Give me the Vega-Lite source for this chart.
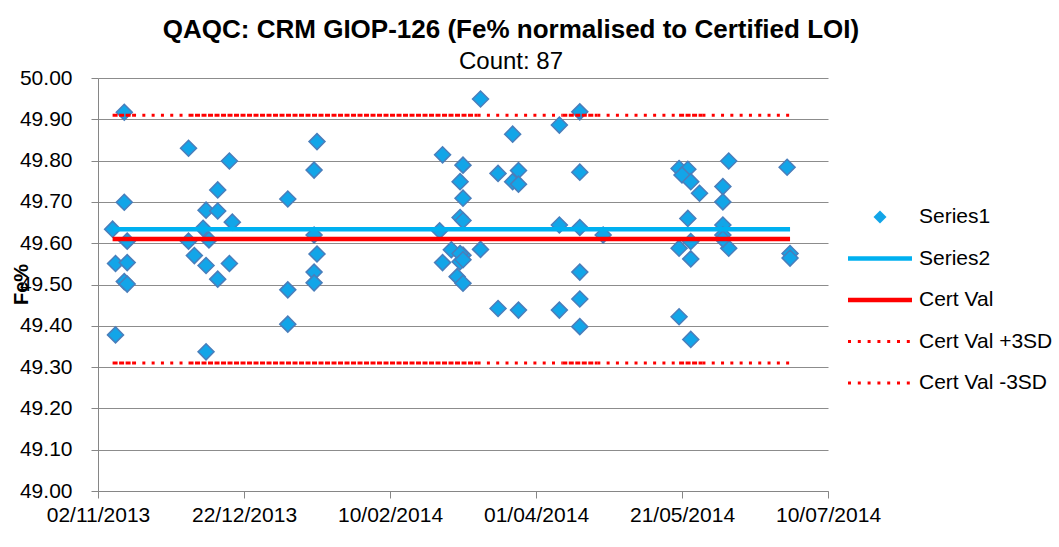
{
  "$schema": "https://vega.github.io/schema/vega-lite/v6.json",
  "width": 730,
  "height": 413,
  "autosize": {"type": "none"},
  "padding": {"left": 98, "top": 78, "right": 231, "bottom": 56},
  "background": "white",
  "title": {
    "text": "QAQC: CRM GIOP-126 (Fe% normalised to Certified LOI)",
    "subtitle": "Count: 87",
    "anchor": "middle",
    "dx": 48,
    "offset": -7,
    "font": "Liberation Sans",
    "fontSize": 26,
    "fontWeight": "bold",
    "color": "#000000",
    "subtitleFont": "Liberation Sans",
    "subtitleFontSize": 24,
    "subtitleColor": "#000000",
    "subtitlePadding": 7
  },
  "config": {
    "view": {"stroke": null},
    "axis": {
      "labelFont": "Liberation Sans",
      "labelFontSize": 21,
      "labelColor": "#000000",
      "domainColor": "#868686",
      "tickColor": "#868686",
      "gridColor": "#8c8c8c",
      "tickSize": 7,
      "domainWidth": 1,
      "tickWidth": 1,
      "gridWidth": 1
    },
    "legend": {
      "title": null,
      "orient": "none",
      "legendX": 767,
      "legendY": 124,
      "symbolSize": 900,
      "symbolStrokeWidth": 0,
      "symbolOpacity": 1,
      "labelFont": "Liberation Sans",
      "labelFontSize": 21,
      "labelColor": "#000000",
      "labelOffset": 24,
      "labelLimit": 0,
      "rowPadding": 16.5
    }
  },
  "datasets": {
    "points": [
      {"date": "2013-11-07", "fe": 49.634, "series": "Series1"},
      {"date": "2013-11-11", "fe": 49.917, "series": "Series1"},
      {"date": "2013-11-11", "fe": 49.699, "series": "Series1"},
      {"date": "2013-11-12", "fe": 49.605, "series": "Series1"},
      {"date": "2013-11-08", "fe": 49.551, "series": "Series1"},
      {"date": "2013-11-12", "fe": 49.553, "series": "Series1"},
      {"date": "2013-11-11", "fe": 49.507, "series": "Series1"},
      {"date": "2013-11-12", "fe": 49.501, "series": "Series1"},
      {"date": "2013-11-08", "fe": 49.378, "series": "Series1"},
      {"date": "2013-12-03", "fe": 49.830, "series": "Series1"},
      {"date": "2013-12-17", "fe": 49.799, "series": "Series1"},
      {"date": "2013-12-13", "fe": 49.729, "series": "Series1"},
      {"date": "2013-12-09", "fe": 49.680, "series": "Series1"},
      {"date": "2013-12-13", "fe": 49.678, "series": "Series1"},
      {"date": "2013-12-18", "fe": 49.651, "series": "Series1"},
      {"date": "2013-12-08", "fe": 49.636, "series": "Series1"},
      {"date": "2013-12-03", "fe": 49.605, "series": "Series1"},
      {"date": "2013-12-10", "fe": 49.608, "series": "Series1"},
      {"date": "2013-12-05", "fe": 49.570, "series": "Series1"},
      {"date": "2013-12-09", "fe": 49.546, "series": "Series1"},
      {"date": "2013-12-17", "fe": 49.551, "series": "Series1"},
      {"date": "2013-12-13", "fe": 49.513, "series": "Series1"},
      {"date": "2013-12-09", "fe": 49.337, "series": "Series1"},
      {"date": "2014-01-06", "fe": 49.707, "series": "Series1"},
      {"date": "2014-01-06", "fe": 49.487, "series": "Series1"},
      {"date": "2014-01-06", "fe": 49.404, "series": "Series1"},
      {"date": "2014-01-16", "fe": 49.846, "series": "Series1"},
      {"date": "2014-01-15", "fe": 49.777, "series": "Series1"},
      {"date": "2014-01-15", "fe": 49.620, "series": "Series1"},
      {"date": "2014-01-16", "fe": 49.574, "series": "Series1"},
      {"date": "2014-01-15", "fe": 49.530, "series": "Series1"},
      {"date": "2014-01-15", "fe": 49.504, "series": "Series1"},
      {"date": "2014-02-28", "fe": 49.814, "series": "Series1"},
      {"date": "2014-02-27", "fe": 49.630, "series": "Series1"},
      {"date": "2014-02-28", "fe": 49.553, "series": "Series1"},
      {"date": "2014-03-13", "fe": 49.949, "series": "Series1"},
      {"date": "2014-03-07", "fe": 49.789, "series": "Series1"},
      {"date": "2014-03-06", "fe": 49.749, "series": "Series1"},
      {"date": "2014-03-07", "fe": 49.709, "series": "Series1"},
      {"date": "2014-03-06", "fe": 49.662, "series": "Series1"},
      {"date": "2014-03-07", "fe": 49.655, "series": "Series1"},
      {"date": "2014-03-03", "fe": 49.584, "series": "Series1"},
      {"date": "2014-03-06", "fe": 49.555, "series": "Series1"},
      {"date": "2014-03-07", "fe": 49.571, "series": "Series1"},
      {"date": "2014-03-05", "fe": 49.519, "series": "Series1"},
      {"date": "2014-03-07", "fe": 49.503, "series": "Series1"},
      {"date": "2014-03-13", "fe": 49.585, "series": "Series1"},
      {"date": "2014-03-06", "fe": 49.575, "series": "Series1"},
      {"date": "2014-03-07", "fe": 49.560, "series": "Series1"},
      {"date": "2014-03-19", "fe": 49.769, "series": "Series1"},
      {"date": "2014-03-19", "fe": 49.442, "series": "Series1"},
      {"date": "2014-03-24", "fe": 49.864, "series": "Series1"},
      {"date": "2014-03-26", "fe": 49.776, "series": "Series1"},
      {"date": "2014-03-24", "fe": 49.749, "series": "Series1"},
      {"date": "2014-03-26", "fe": 49.743, "series": "Series1"},
      {"date": "2014-03-26", "fe": 49.438, "series": "Series1"},
      {"date": "2014-04-09", "fe": 49.886, "series": "Series1"},
      {"date": "2014-04-16", "fe": 49.918, "series": "Series1"},
      {"date": "2014-04-16", "fe": 49.772, "series": "Series1"},
      {"date": "2014-04-09", "fe": 49.644, "series": "Series1"},
      {"date": "2014-04-16", "fe": 49.638, "series": "Series1"},
      {"date": "2014-04-24", "fe": 49.620, "series": "Series1"},
      {"date": "2014-04-16", "fe": 49.530, "series": "Series1"},
      {"date": "2014-04-16", "fe": 49.465, "series": "Series1"},
      {"date": "2014-04-09", "fe": 49.438, "series": "Series1"},
      {"date": "2014-04-16", "fe": 49.398, "series": "Series1"},
      {"date": "2014-05-20", "fe": 49.781, "series": "Series1"},
      {"date": "2014-05-23", "fe": 49.779, "series": "Series1"},
      {"date": "2014-05-21", "fe": 49.765, "series": "Series1"},
      {"date": "2014-05-24", "fe": 49.749, "series": "Series1"},
      {"date": "2014-05-27", "fe": 49.721, "series": "Series1"},
      {"date": "2014-06-04", "fe": 49.737, "series": "Series1"},
      {"date": "2014-06-04", "fe": 49.700, "series": "Series1"},
      {"date": "2014-06-06", "fe": 49.799, "series": "Series1"},
      {"date": "2014-06-26", "fe": 49.784, "series": "Series1"},
      {"date": "2014-05-23", "fe": 49.660, "series": "Series1"},
      {"date": "2014-05-20", "fe": 49.588, "series": "Series1"},
      {"date": "2014-05-24", "fe": 49.604, "series": "Series1"},
      {"date": "2014-05-24", "fe": 49.562, "series": "Series1"},
      {"date": "2014-05-20", "fe": 49.422, "series": "Series1"},
      {"date": "2014-05-24", "fe": 49.367, "series": "Series1"},
      {"date": "2014-06-04", "fe": 49.644, "series": "Series1"},
      {"date": "2014-06-04", "fe": 49.620, "series": "Series1"},
      {"date": "2014-06-06", "fe": 49.588, "series": "Series1"},
      {"date": "2014-06-04", "fe": 49.610, "series": "Series1"},
      {"date": "2014-06-27", "fe": 49.575, "series": "Series1"},
      {"date": "2014-06-27", "fe": 49.564, "series": "Series1"}
    ],
    "lines": [
      {"series": "Series2", "value": 49.634, "start": "2013-11-07", "end": "2014-06-27"},
      {"series": "Cert Val", "value": 49.61, "start": "2013-11-07", "end": "2014-06-27"}
    ],
    "dense": [
      {"series": "Cert Val +3SD", "value": 49.91, "start": "2013-11-07", "end": "2013-11-14"},
      {"series": "Cert Val +3SD", "value": 49.91, "start": "2013-12-03", "end": "2014-03-12"},
      {"series": "Cert Val +3SD", "value": 49.91, "start": "2014-04-10", "end": "2014-04-22"},
      {"series": "Cert Val +3SD", "value": 49.91, "start": "2014-05-20", "end": "2014-05-28"},
      {"series": "Cert Val -3SD", "value": 49.31, "start": "2013-11-07", "end": "2013-11-14"},
      {"series": "Cert Val -3SD", "value": 49.31, "start": "2013-12-03", "end": "2014-03-12"},
      {"series": "Cert Val -3SD", "value": 49.31, "start": "2014-04-10", "end": "2014-04-22"},
      {"series": "Cert Val -3SD", "value": 49.31, "start": "2014-05-20", "end": "2014-05-28"}
    ],
    "sparse": [
      {"series": "Cert Val +3SD", "value": 49.91, "start": "2013-11-14", "end": "2013-12-03"},
      {"series": "Cert Val +3SD", "value": 49.91, "start": "2014-03-12", "end": "2014-04-10"},
      {"series": "Cert Val +3SD", "value": 49.91, "start": "2014-04-22", "end": "2014-05-20"},
      {"series": "Cert Val +3SD", "value": 49.91, "start": "2014-05-28", "end": "2014-06-27"},
      {"series": "Cert Val -3SD", "value": 49.31, "start": "2013-11-14", "end": "2013-12-03"},
      {"series": "Cert Val -3SD", "value": 49.31, "start": "2014-03-12", "end": "2014-04-10"},
      {"series": "Cert Val -3SD", "value": 49.31, "start": "2014-04-22", "end": "2014-05-20"},
      {"series": "Cert Val -3SD", "value": 49.31, "start": "2014-05-28", "end": "2014-06-27"}
    ]
  },
  "layer": [
    {
      "data": {"name": "points"},
      "mark": {"type": "point", "shape": "diamond", "filled": true, "size": 256, "opacity": 1, "stroke": "#4a7ebb", "strokeWidth": 1.5},
      "encoding": {
        "x": {
          "field": "date",
          "type": "temporal",
          "scale": {
            "type": "utc",
            "domain": [
              {"year": 2013, "month": 11, "date": 2, "utc": true},
              {"year": 2014, "month": 7, "date": 10, "utc": true}
            ],
            "nice": false
          },
          "axis": {
            "title": null,
            "grid": false,
            "format": "%d/%m/%Y",
            "labelFlush": false,
            "labelOverlap": false,
            "labelPadding": 6,
            "values": [
              {"year": 2013, "month": 11, "date": 2, "utc": true},
              {"year": 2013, "month": 12, "date": 22, "utc": true},
              {"year": 2014, "month": 2, "date": 10, "utc": true},
              {"year": 2014, "month": 4, "date": 1, "utc": true},
              {"year": 2014, "month": 5, "date": 21, "utc": true},
              {"year": 2014, "month": 7, "date": 10, "utc": true}
            ]
          }
        },
        "y": {
          "field": "fe",
          "type": "quantitative",
          "scale": {"domain": [49, 50], "nice": false, "zero": false},
          "axis": {
            "title": "Fe%",
            "titleFont": "Liberation Sans",
            "titleFontSize": 20,
            "titleFontWeight": "bold",
            "titleColor": "#000000",
            "titleX": -77,
            "titleY": 206,
            "titleAlign": "center",
            "titleBaseline": "middle",
            "titleAngle": -90,
            "grid": true,
            "format": ".2f",
            "labelPadding": 19,
            "values": [49.0, 49.1, 49.2, 49.3, 49.4, 49.5, 49.6, 49.7, 49.8, 49.9, 50.0]
          }
        },
        "color": {
          "field": "series",
          "type": "nominal",
          "scale": {
            "domain": ["Series1", "Series2", "Cert Val", "Cert Val +3SD", "Cert Val -3SD"],
            "range": ["#12a5e8", "#00b0f0", "#ff0000", "#ff0000", "#ff0000"]
          },
          "legend": {"title": null}
        }
      }
    },
    {
      "data": {"name": "sparse"},
      "mark": {"type": "rule", "strokeWidth": 3, "strokeDash": [3, 6.3]},
      "encoding": {
        "x": {"field": "start", "type": "temporal"},
        "x2": {"field": "end"},
        "y": {"field": "value", "type": "quantitative"},
        "color": {"field": "series", "type": "nominal"}
      }
    },
    {
      "data": {"name": "dense"},
      "mark": {"type": "rule", "strokeWidth": 3, "strokeDash": [5, 1.5]},
      "encoding": {
        "x": {"field": "start", "type": "temporal"},
        "x2": {"field": "end"},
        "y": {"field": "value", "type": "quantitative"},
        "color": {"field": "series", "type": "nominal"}
      }
    },
    {
      "data": {"name": "lines"},
      "mark": {"type": "rule", "strokeWidth": 4.5},
      "encoding": {
        "x": {"field": "start", "type": "temporal"},
        "x2": {"field": "end"},
        "y": {"field": "value", "type": "quantitative"},
        "color": {"field": "series", "type": "nominal"}
      }
    },
    {
      "data": {"values": []},
      "mark": {"type": "point", "filled": true},
      "encoding": {
        "color": {"field": "series", "type": "nominal", "legend": {"title": null}},
        "shape": {
          "field": "series",
          "type": "nominal",
          "scale": {
            "domain": ["Series1", "Series2", "Cert Val", "Cert Val +3SD", "Cert Val -3SD"],
            "range": [
              "M0,-0.433L0.433,0L0,0.433L-0.433,0Z",
              "M-2.133,-0.15H2.133V0.15H-2.133Z",
              "M-2.133,-0.15H2.133V0.15H-2.133Z",
              "M-2.133,-0.1h0.2v0.2h-0.2Z M-1.48,-0.1h0.2v0.2h-0.2Z M-0.827,-0.1h0.2v0.2h-0.2Z M-0.173,-0.1h0.2v0.2h-0.2Z M0.48,-0.1h0.2v0.2h-0.2Z M1.133,-0.1h0.2v0.2h-0.2Z M1.787,-0.1h0.2v0.2h-0.2Z",
              "M-2.133,-0.1h0.2v0.2h-0.2Z M-1.48,-0.1h0.2v0.2h-0.2Z M-0.827,-0.1h0.2v0.2h-0.2Z M-0.173,-0.1h0.2v0.2h-0.2Z M0.48,-0.1h0.2v0.2h-0.2Z M1.133,-0.1h0.2v0.2h-0.2Z M1.787,-0.1h0.2v0.2h-0.2Z"
            ]
          },
          "legend": {"title": null}
        }
      }
    }
  ]
}
